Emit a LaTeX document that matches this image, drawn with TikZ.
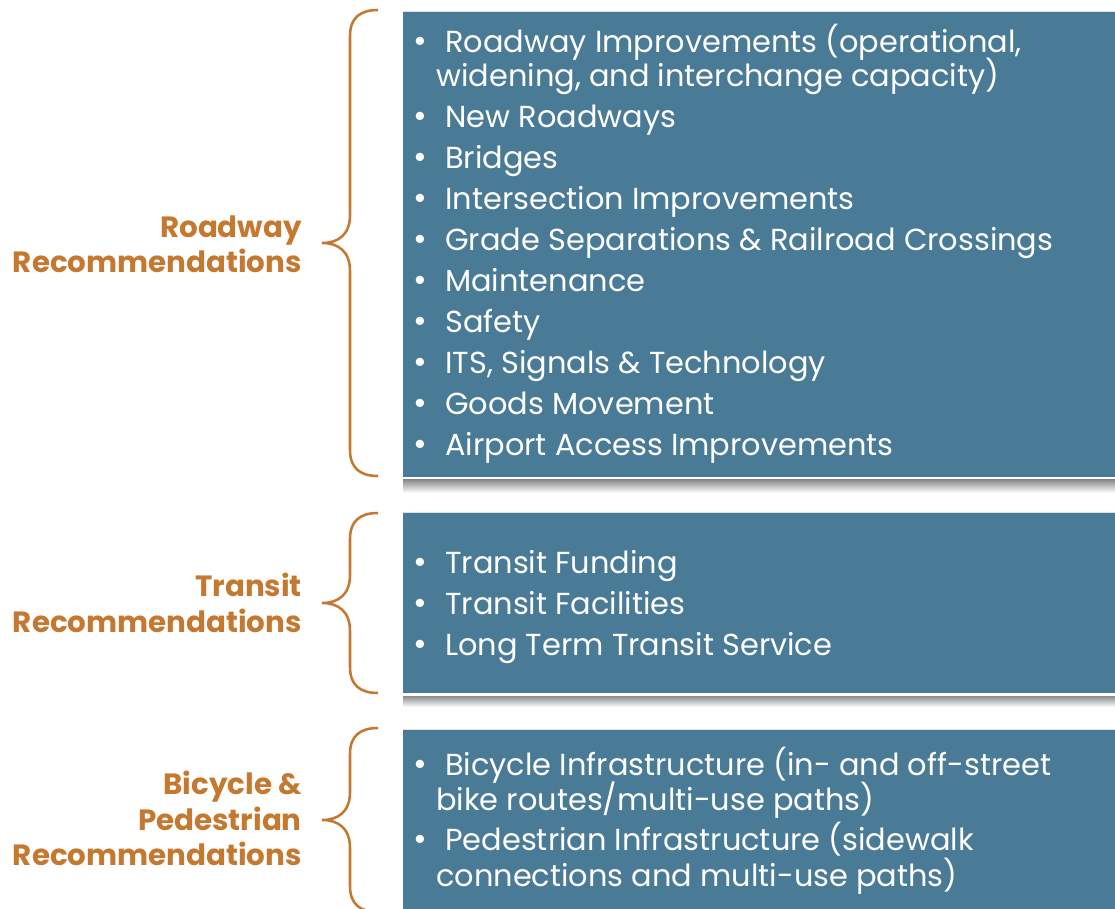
\documentclass[tikz,border=0pt]{standalone}
\usepackage{fontspec}
\setmainfont{Poppins}
\definecolor{boxc}{RGB}{73,122,150}
\definecolor{orangec}{RGB}{196,120,48}
\begin{document}
\begin{tikzpicture}[x=0.75pt,y=-0.75pt,
  body/.style={anchor=base west,inner sep=0pt,text=white,font=\fontsize{22.8}{26}\selectfont},
  bul/.style={anchor=base west,inner sep=0pt,text=white,font=\fontsize{25}{26}\selectfont},
  lbl/.style={anchor=base east,inner sep=0pt,text=orangec,font=\fontsize{22}{26}\selectfont\bfseries},
  brace/.style={draw=orangec,line width=1.9pt},
  shad/.style={top color=black!45,bottom color=white,draw=none}]
\useasboundingbox (0,0) rectangle (1115,909);
% boxes
\draw[black!12,line width=0.6pt] (403,11) -- (1115,11);
\fill[boxc] (403,12) rectangle (1115,477);
\shade[shad] (403,480) rectangle (1115,493);
\draw[black!12,line width=0.6pt] (403,512) -- (1115,512);
\fill[boxc] (403,513) rectangle (1115,693);
\shade[shad] (403,696) rectangle (1115,707);
\draw[black!12,line width=0.6pt] (403,729) -- (1115,729);
\fill[boxc] (403,730) rectangle (1115,915);
% braces
\draw[brace] (378,10) .. controls (360,10) and (350,18) .. (350,36) -- (350,215)
  .. controls (350,235) and (338,243) .. (322,243)
  .. controls (338,243) and (350,251) .. (350,271) -- (350,450)
  .. controls (350,468) and (360,476) .. (378,476);
\draw[brace] (378,513) .. controls (360,513) and (350,521) .. (350,539) -- (350,575)
  .. controls (350,595) and (338,603) .. (322,603)
  .. controls (338,603) and (350,611) .. (350,631) -- (350,667)
  .. controls (350,685) and (360,693) .. (378,693);
\draw[brace] (378,728) .. controls (360,728) and (350,736) .. (350,754) -- (350,792)
  .. controls (350,812) and (338,820) .. (322,820)
  .. controls (338,820) and (350,828) .. (350,848) -- (350,886)
  .. controls (350,904) and (360,912) .. (378,912);
% labels
\node[lbl] (l1a) at (302,238) {Roadway};
\node[lbl] (l1b) at (302,273) {Recommendations};
\node[lbl] (l2a) at (302,596) {Transit};
\node[lbl] (l2b) at (302,632) {Recommendations};
\node[lbl] (l3a) at (302,794) {Bicycle \&};
\node[lbl] (l3b) at (302,830) {Pedestrian};
\node[lbl] (l3c) at (302,865) {Recommendations};
% box 1
\foreach \y [count=\i] in {53,128,169,210,251,292,333,374,415,456}
  \node[bul] (b1\i) at (413,\y) {\textbullet};
\node[body] (t1a) at (445,53) {Roadway Improvements (operational,};
\node[body] (t1b) at (436,87) {widening, and interchange capacity)};
\node[body] (t2) at (445,128) {New Roadways};
\node[body] (t3) at (445,169) {Bridges};
\node[body] (t4) at (445,210) {Intersection Improvements};
\node[body] (t5) at (445,251) {Grade Separations \& Railroad Crossings};
\node[body] (t6) at (445,292) {Maintenance};
\node[body] (t7) at (445,333) {Safety};
\node[body] (t8) at (445,374) {ITS, Signals \& Technology};
\node[body] (t9) at (445,415) {Goods Movement};
\node[body] (t10) at (445,456) {Airport Access Improvements};
% box 2
\foreach \y [count=\i] in {573,614,655}
  \node[bul] (b2\i) at (413,\y) {\textbullet};
\node[body] (u1) at (445,573) {Transit Funding};
\node[body] (u2) at (445,614) {Transit Facilities};
\node[body] (u3) at (445,655) {Long Term Transit Service};
% box 3
\foreach \y [count=\i] in {775,850}
  \node[bul] (b3\i) at (413,\y) {\textbullet};
\node[body] (v1a) at (445,775) {Bicycle Infrastructure (in- and off-street};
\node[body] (v1b) at (436,810) {bike routes/multi-use paths)};
\node[body] (v2a) at (445,850) {Pedestrian Infrastructure (sidewalk};
\node[body] (v2b) at (436,886) {connections and multi-use paths)};
\end{tikzpicture}
\end{document}
